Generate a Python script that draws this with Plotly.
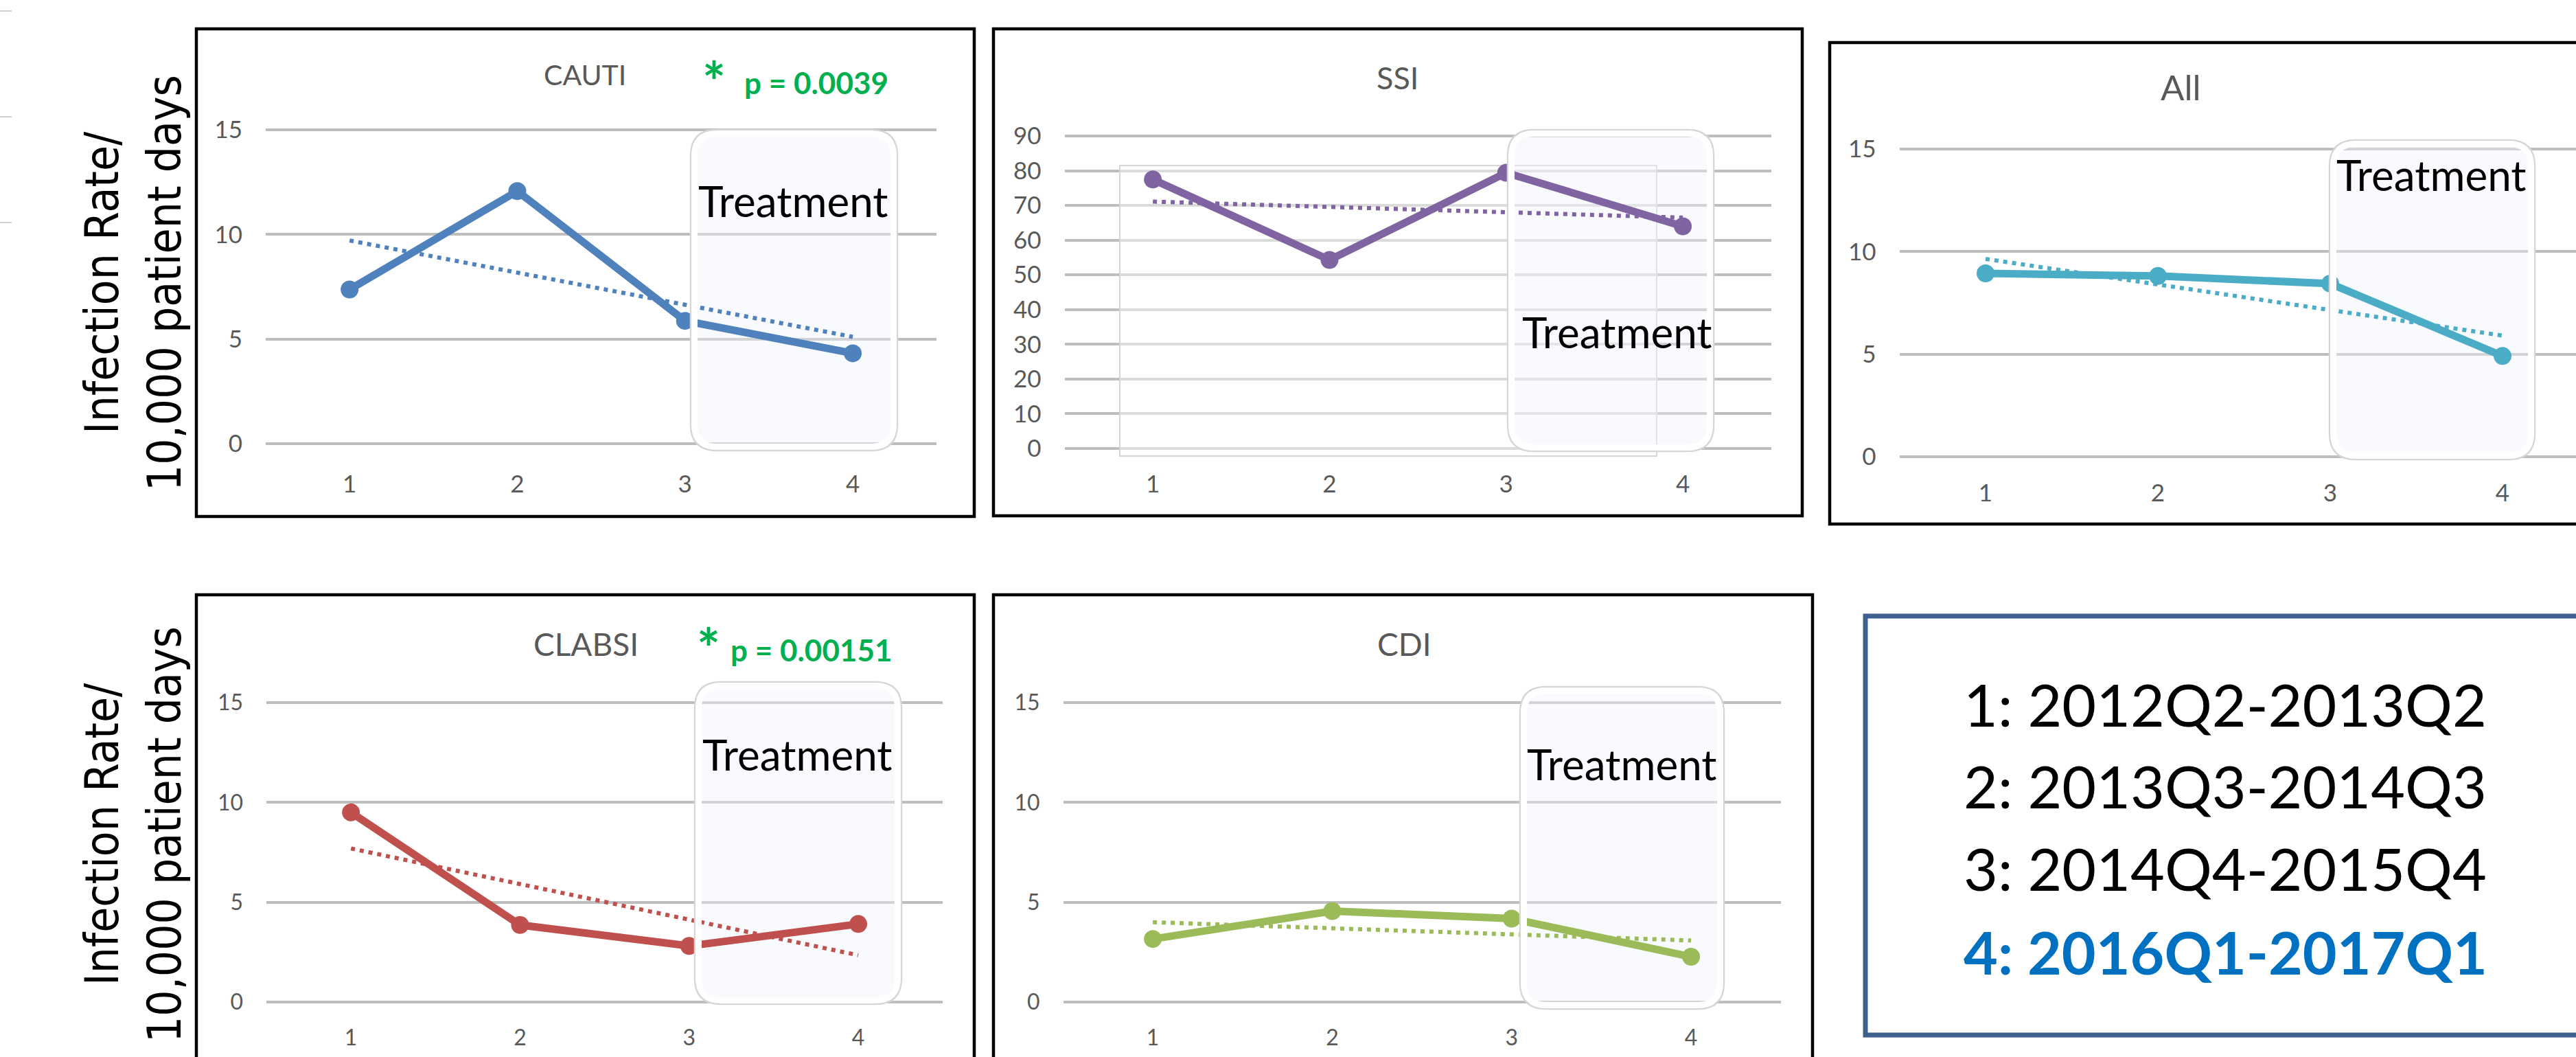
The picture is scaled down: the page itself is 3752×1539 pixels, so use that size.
import numpy as np
import plotly.graph_objects as go

W, H = 3752, 1539

# ---- data -------------------------------------------------------------
periods = [1, 2, 3, 4]
period_ticks = ["1", "2", "3", "4"]
period_labels = ["1: 2012Q2-2013Q2", "2: 2013Q3-2014Q3",
                 "3: 2014Q4-2015Q4", "4: 2016Q1-2017Q1"]

cauti = [7.37, 12.07, 5.87, 4.32]
ssi = [77.5, 54.3, 79.4, 64.0]
all_hai = [8.94, 8.81, 8.44, 4.91]
clabsi = [9.50, 3.86, 2.81, 3.91]
cdi = [3.16, 4.56, 4.18, 2.27]

rate_ticks = [0, 5, 10, 15]
ssi_ticks = [0, 10, 20, 30, 40, 50, 60, 70, 80, 90]

p_values = {"CAUTI": "p = 0.0039", "CLABSI": "p = 0.00151"}

# ---- panel geometry (pixels) -----------------------------------------
# xa: pixel of x=0.5, sx: pixels per period, y0: pixel of y=0, ytop: pixel of ymax
panels = [
    dict(name="CAUTI", y=cauti, color="#4F81BD", ticks=rate_ticks, ymax=15,
         xa=387, sx=244.3, y0=646, ytop=189, box=(286, 42, 1419, 752),
         title_xy=(852, 108), title_size=41, treat=(1006, 189, 1307, 656),
         treat_txt=(1155, 292), tick_size=35, xlab_y=701),
    dict(name="SSI", y=ssi, color="#8064A2", ticks=ssi_ticks, ymax=90,
         xa=1550.5, sx=257.3, y0=653, ytop=198, box=(1447, 42, 2625, 751),
         title_xy=(2035, 113), title_size=45, treat=(2196, 189, 2496, 657),
         treat_txt=(2355, 483), tick_size=35, xlab_y=701),
    dict(name="All", y=all_hai, color="#4BACC6", ticks=rate_ticks, ymax=15,
         xa=2766.5, sx=251, y0=665, ytop=217, box=(2665, 62, W + 30, 763),
         title_xy=(3176, 126), title_size=51, treat=(3393, 204, 3692, 669),
         treat_txt=(3541, 254), tick_size=35, xlab_y=714),
    dict(name="CLABSI", y=clabsi, color="#C0504D", ticks=rate_ticks, ymax=15,
         xa=388, sx=246.3, y0=1459, ytop=1023, box=(286, 866, 1419, H + 30),
         title_xy=(853, 937), title_size=46, treat=(1012, 993, 1313, 1462),
         treat_txt=(1161, 1098), tick_size=32, xlab_y=1507),
    dict(name="CDI", y=cdi, color="#9BBB59", ticks=rate_ticks, ymax=15,
         xa=1548.5, sx=261.3, y0=1459, ytop=1023, box=(1447, 866, 2640, H + 30),
         title_xy=(2045, 937), title_size=46, treat=(2214, 1000, 2511, 1469),
         treat_txt=(2362, 1112), tick_size=32, xlab_y=1507),
]

PAD = 28  # vertical room around the plotting area


def px(x):
    return x / W


def py(y):
    return 1 - y / H


def rounded_path(x0, y0, x1, y1, rx, ry):
    return (f"M {x0 + rx},{y0} L {x1 - rx},{y0} Q {x1},{y0} {x1},{y0 + ry} "
            f"L {x1},{y1 - ry} Q {x1},{y1} {x1 - rx},{y1} L {x0 + rx},{y1} "
            f"Q {x0},{y1} {x0},{y1 - ry} L {x0},{y0 + ry} Q {x0},{y0} {x0 + rx},{y0} Z")


fig = go.Figure()
shapes = []
annotations = []
layout_axes = {}

for i, p in enumerate(panels, start=1):
    xs = "" if i == 1 else str(i)
    sy = (p["y0"] - p["ytop"]) / p["ymax"]
    x_right = min(p["xa"] + 4 * p["sx"], W)
    x_hi = 0.5 + (x_right - p["xa"]) / p["sx"]
    pad_u = PAD / sy

    layout_axes["xaxis" + xs] = dict(
        domain=[px(p["xa"]), px(x_right)], range=[0.5, x_hi], anchor="y" + xs,
        tickvals=periods, ticktext=period_ticks, showgrid=False, zeroline=False,
        showline=False, ticks="",
        ticklabelstandoff=int(p["xlab_y"] - p["y0"] - PAD - p["tick_size"] * 0.55),
        tickfont=dict(family="Lato", size=p["tick_size"], color="#595959"),
        fixedrange=True,
    )
    layout_axes["yaxis" + xs] = dict(
        domain=[py(p["y0"] + PAD), py(p["ytop"] - PAD)],
        range=[-pad_u, p["ymax"] + pad_u], anchor="x" + xs,
        tickvals=p["ticks"], showgrid=True, gridcolor="#BEBEBE", gridwidth=4,
        zeroline=False, showline=False, ticks="", ticklabelstandoff=33,
        tickfont=dict(family="Lato", size=p["tick_size"], color="#595959"),
        fixedrange=True,
    )

    # series with markers
    fig.add_trace(go.Scatter(
        x=periods, y=p["y"], mode="lines+markers", name=p["name"],
        line=dict(color=p["color"], width=11), marker=dict(size=26, color=p["color"]),
        xaxis="x" + xs, yaxis="y" + xs, showlegend=False, hoverinfo="skip",
    ))
    # linear trendline
    slope, intercept = np.polyfit(periods, p["y"], 1)
    trend = [slope * x + intercept for x in periods]
    fig.add_trace(go.Scatter(
        x=periods, y=trend, mode="lines",
        line=dict(color=p["color"], width=6, dash="6px,7px"),
        xaxis="x" + xs, yaxis="y" + xs, showlegend=False, hoverinfo="skip",
    ))

    def to_data(xp, yp, p=p, sy=sy):
        return 0.5 + (xp - p["xa"]) / p["sx"], (p["y0"] - yp) / sy

    tx0, ty0, tx1, ty1 = p["treat"]
    r = 38
    # Treatment band fill, drawn between gridlines and traces
    dx0, dy1 = to_data(tx0 + 3, ty0 + 3)
    dx1, dy0 = to_data(tx1 - 3, ty1 - 3)
    shapes.append(dict(
        type="path", xref="x" + xs, yref="y" + xs, layer="between",
        path=rounded_path(dx0, dy0, dx1, dy1, r / p["sx"], r / sy),
        fillcolor="rgba(238,242,249,0.40)", line=dict(width=0),
    ))
    # outer light edge and white rim
    shapes.append(dict(
        type="path", xref="paper", yref="paper", layer="above",
        path=rounded_path(px(tx0), py(ty1), px(tx1), py(ty0), r / W, r / H),
        line=dict(color="#D6D6D6", width=2.5),
    ))
    shapes.append(dict(
        type="path", xref="paper", yref="paper", layer="above",
        path=rounded_path(px(tx0 + 5.5), py(ty1 - 5.5), px(tx1 - 5.5), py(ty0 + 5.5),
                          (r - 5) / W, (r - 5) / H),
        line=dict(color="white", width=9),
    ))
    annotations.append(dict(
        text="Treatment", x=px(p["treat_txt"][0]), y=py(p["treat_txt"][1]),
        xref="paper", yref="paper", xanchor="center", yanchor="middle",
        showarrow=False, font=dict(family="Lato", size=62, color="black"),
    ))

    # panel frame
    bx0, by0, bx1, by1 = p["box"]
    shapes.append(dict(
        type="rect", xref="paper", yref="paper", layer="above",
        x0=px(bx0), x1=px(bx1), y0=py(by1), y1=py(by0),
        line=dict(color="black", width=4.5),
    ))
    annotations.append(dict(
        text=p["name"], x=px(p["title_xy"][0]), y=py(p["title_xy"][1]),
        xref="paper", yref="paper", xanchor="center", yanchor="middle",
        showarrow=False, font=dict(family="Lato", size=p["title_size"], color="#595959"),
    ))

    if i == 2:
        # faint framed area inside the SSI panel
        sx0, sy0_ = to_data(1631, 664)
        sx1, sy1_ = to_data(2413, 241)
        shapes.insert(0, dict(
            type="rect", xref="x2", yref="y2", layer="between",
            x0=sx0, x1=sx1, y0=sy0_, y1=sy1_,
            fillcolor="rgba(255,255,255,0.45)", line=dict(color="#D6D6D6", width=2),
        ))

# significance notes
for name, star_xy, p_xy in [("CAUTI", (1040, 118), (1082, 120)),
                            ("CLABSI", (1032, 943), (1062, 946))]:
    annotations.append(dict(
        text="<b>*</b>", x=px(star_xy[0]), y=py(star_xy[1]), xref="paper", yref="paper",
        xanchor="center", yanchor="middle", showarrow=False,
        font=dict(family="Lato", size=80, color="#00B050"),
    ))
    annotations.append(dict(
        text="<b>" + p_values[name] + "</b>", x=px(p_xy[0]), y=py(p_xy[1]),
        xref="paper", yref="paper", xanchor="left", yanchor="middle", showarrow=False,
        font=dict(family="Lato", size=44, color="#00B050"),
    ))

# shared y-axis titles
for yc in (412, 1215):
    for txt, xc in (("Infection Rate/", 149), ("10,000 patient days", 240)):
        annotations.append(dict(
            text=txt, x=px(xc), y=py(yc), xref="paper", yref="paper",
            xanchor="center", yanchor="middle", textangle=-90, showarrow=False,
            font=dict(family="DejaVu Sans Condensed, DejaVu Sans", size=67, color="black"),
        ))

# small marks on the left edge
for yy in (16, 170, 324):
    shapes.append(dict(type="line", xref="paper", yref="paper", layer="above",
                       x0=0, x1=px(17), y0=py(yy), y1=py(yy),
                       line=dict(color="#D0D0D0", width=2)))

# period key
shapes.append(dict(
    type="rect", xref="paper", yref="paper", layer="above",
    x0=px(2717), x1=px(W + 30), y0=py(1507), y1=py(897),
    line=dict(color="#3F5F8F", width=7),
))
for k, (lab, yc) in enumerate(zip(period_labels, (1024, 1143, 1263, 1385))):
    last = k == len(period_labels) - 1
    annotations.append(dict(
        text=("<b>" + lab + "</b>") if last else lab,
        x=px(2858), y=py(yc), xref="paper", yref="paper",
        xanchor="left", yanchor="middle", showarrow=False,
        font=dict(family="Lato", size=86, color="#0070C0" if last else "black"),
    ))

fig.update_layout(
    width=W, height=H, margin=dict(l=0, r=0, t=0, b=0),
    paper_bgcolor="white", plot_bgcolor="white",
    font=dict(family="Lato"), showlegend=False,
    shapes=shapes, annotations=annotations, **layout_axes,
)

fig.write_html("out.html")
